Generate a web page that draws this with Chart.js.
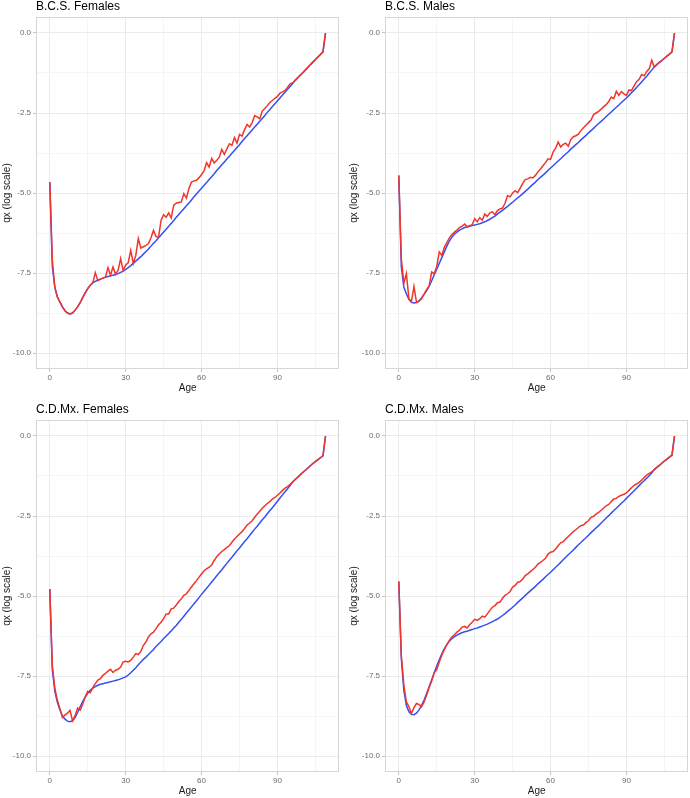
<!DOCTYPE html>
<html>
<head>
<meta charset="utf-8">
<script src="https://cdn.jsdelivr.net/npm/chart.js@4/dist/chart.umd.min.js"></script>
<style>
html,body{margin:0;padding:0;background:#fff;}
#wrap{position:relative;width:690px;height:798px;overflow:hidden;background:#fff;}
.cell{position:absolute;width:345px;}
.cell canvas{position:absolute;left:0;top:0;}
.ttl{position:absolute;top:0;font-family:'Liberation Sans',Arial,sans-serif;font-size:12px;line-height:12px;color:#000;white-space:nowrap;}
</style>
</head>
<body>
<div id="wrap"></div>
<script>
// ---- categories ----
const ages = Array.from({length: 110}, (_, i) => i);
const xTickVals = [0, 15, 30, 45, 60, 75, 90, 105];
const xTickLabels = ['0', '', '30', '', '60', '', '90', ''];
const yTickVals = [-10, -8.75, -7.5, -6.25, -5, -3.75, -2.5, -1.25, 0];
const yTickLabels = ['-10.0', '', '-7.5', '', '-5.0', '', '-2.5', '', '0.0'];
const panelTitles = ['B.C.S. Females', 'B.C.S. Males', 'C.D.Mx. Females', 'C.D.Mx. Males'];
const xAxisTitle = 'Age';
const yAxisTitle = 'qx (log scale)';

// ---- series (log qx by age 0..109) ----
const bcsFemObs = [
-4.66,-7.10,-7.94,-8.25,-8.40,-8.56,-8.68,-8.75,-8.78,-8.75,
-8.66,-8.56,-8.43,-8.27,-8.12,-7.99,-7.88,-7.80,-7.49,-7.74,
-7.69,-7.66,-7.63,-7.33,-7.57,-7.31,-7.54,-7.42,-7.05,-7.42,
-7.25,-7.18,-6.79,-7.20,-6.95,-6.42,-6.72,-6.68,-6.64,-6.58,
-6.40,-6.17,-6.36,-6.38,-5.85,-5.68,-5.76,-5.62,-5.78,-5.38,
-5.32,-5.30,-5.28,-5.02,-5.16,-4.86,-4.66,-4.62,-4.60,-4.52,
-4.42,-4.30,-4.05,-4.19,-3.92,-4.06,-3.98,-3.88,-3.64,-3.79,
-3.62,-3.46,-3.51,-3.27,-3.44,-3.17,-3.22,-3.02,-2.86,-2.94,
-2.80,-2.58,-2.62,-2.68,-2.44,-2.36,-2.27,-2.17,-2.11,-2.04,
-1.98,-1.88,-1.84,-1.79,-1.70,-1.59,-1.56,-1.48,-1.40,-1.32,
-1.24,-1.16,-1.08,-0.99,-0.91,-0.83,-0.75,-0.67,-0.59,0.00];
const bcsFemFit = [
-4.66,-7.30,-7.96,-8.25,-8.41,-8.56,-8.68,-8.75,-8.78,-8.75,
-8.66,-8.56,-8.43,-8.27,-8.12,-7.99,-7.88,-7.81,-7.76,-7.72,
-7.69,-7.66,-7.63,-7.61,-7.59,-7.57,-7.55,-7.52,-7.48,-7.44,
-7.39,-7.33,-7.27,-7.20,-7.13,-7.06,-6.99,-6.91,-6.83,-6.75,
-6.66,-6.57,-6.49,-6.40,-6.31,-6.22,-6.13,-6.04,-5.95,-5.86,
-5.76,-5.67,-5.58,-5.49,-5.40,-5.31,-5.22,-5.12,-5.03,-4.94,
-4.85,-4.76,-4.67,-4.58,-4.49,-4.40,-4.30,-4.21,-4.12,-4.03,
-3.94,-3.85,-3.76,-3.67,-3.58,-3.49,-3.39,-3.30,-3.21,-3.12,
-3.03,-2.94,-2.85,-2.76,-2.67,-2.58,-2.48,-2.39,-2.30,-2.21,
-2.12,-2.03,-1.94,-1.85,-1.76,-1.67,-1.58,-1.48,-1.40,-1.32,
-1.24,-1.16,-1.08,-0.99,-0.91,-0.83,-0.75,-0.67,-0.59,0.00];

const bcsMalObs = [
-4.45,-7.05,-7.83,-7.52,-8.30,-8.40,-7.92,-8.42,-8.38,-8.30,
-8.16,-8.02,-7.90,-7.47,-7.52,-7.30,-6.84,-6.95,-6.70,-6.55,
-6.40,-6.30,-6.22,-6.16,-6.08,-6.04,-5.97,-6.05,-6.02,-5.99,
-5.80,-5.90,-5.77,-5.85,-5.66,-5.73,-5.62,-5.59,-5.68,-5.55,
-5.50,-5.47,-5.32,-5.08,-5.12,-5.00,-4.93,-4.99,-4.85,-4.70,
-4.58,-4.56,-4.51,-4.53,-4.45,-4.34,-4.25,-4.15,-4.05,-3.93,
-3.95,-3.72,-3.60,-3.41,-3.56,-3.48,-3.44,-3.54,-3.33,-3.24,
-3.21,-3.16,-3.05,-2.96,-2.88,-2.80,-2.72,-2.55,-2.50,-2.45,
-2.38,-2.30,-2.24,-2.14,-2.00,-2.05,-1.82,-1.95,-1.83,-1.90,
-1.95,-1.78,-1.80,-1.65,-1.52,-1.45,-1.30,-1.34,-1.20,-1.12,
-0.85,-1.06,-0.99,-0.92,-0.86,-0.79,-0.72,-0.66,-0.59,0.00];
const bcsMalFit = [
-4.45,-7.30,-7.95,-8.15,-8.32,-8.42,-8.44,-8.42,-8.37,-8.28,
-8.17,-8.05,-7.92,-7.74,-7.56,-7.38,-7.20,-7.02,-6.84,-6.66,
-6.50,-6.38,-6.29,-6.22,-6.16,-6.12,-6.08,-6.06,-6.04,-6.02,
-6.00,-5.98,-5.96,-5.93,-5.90,-5.86,-5.82,-5.77,-5.72,-5.66,
-5.60,-5.54,-5.48,-5.42,-5.35,-5.29,-5.22,-5.15,-5.09,-5.02,
-4.95,-4.88,-4.80,-4.73,-4.66,-4.58,-4.51,-4.44,-4.37,-4.29,
-4.22,-4.15,-4.07,-4.00,-3.93,-3.85,-3.78,-3.71,-3.63,-3.56,
-3.49,-3.42,-3.34,-3.27,-3.20,-3.12,-3.05,-2.98,-2.90,-2.83,
-2.76,-2.69,-2.61,-2.54,-2.47,-2.39,-2.32,-2.25,-2.17,-2.10,
-2.03,-1.95,-1.87,-1.79,-1.70,-1.62,-1.53,-1.44,-1.35,-1.25,
-1.16,-1.06,-0.99,-0.92,-0.86,-0.79,-0.72,-0.66,-0.59,0.00];

const cdmxFemObs = [
-4.78,-7.17,-7.89,-8.26,-8.52,-8.80,-8.72,-8.66,-8.57,-8.90,
-8.74,-8.50,-8.57,-8.38,-8.16,-7.98,-8.02,-7.86,-7.74,-7.63,
-7.58,-7.48,-7.42,-7.35,-7.29,-7.39,-7.32,-7.29,-7.22,-7.06,
-7.04,-7.06,-7.01,-6.91,-6.80,-6.83,-6.73,-6.54,-6.44,-6.28,
-6.18,-6.13,-6.02,-5.90,-5.82,-5.71,-5.56,-5.56,-5.40,-5.38,
-5.28,-5.17,-5.09,-4.98,-4.93,-4.83,-4.72,-4.62,-4.52,-4.41,
-4.31,-4.21,-4.15,-4.10,-4.03,-3.89,-3.77,-3.69,-3.61,-3.55,
-3.48,-3.43,-3.32,-3.22,-3.14,-3.06,-2.99,-2.89,-2.78,-2.72,
-2.65,-2.54,-2.44,-2.35,-2.26,-2.18,-2.11,-2.05,-1.97,-1.92,
-1.85,-1.78,-1.70,-1.63,-1.58,-1.51,-1.44,-1.36,-1.29,-1.21,
-1.14,-1.07,-1.00,-0.93,-0.86,-0.80,-0.74,-0.68,-0.62,0.00];
const cdmxFemFit = [
-4.78,-7.30,-7.98,-8.32,-8.56,-8.74,-8.85,-8.91,-8.93,-8.90,
-8.80,-8.64,-8.46,-8.30,-8.16,-8.04,-7.95,-7.88,-7.83,-7.79,
-7.76,-7.74,-7.72,-7.70,-7.68,-7.66,-7.64,-7.62,-7.59,-7.56,
-7.53,-7.47,-7.40,-7.32,-7.24,-7.15,-7.06,-6.98,-6.91,-6.83,
-6.75,-6.67,-6.58,-6.50,-6.42,-6.33,-6.25,-6.17,-6.09,-6.00,
-5.92,-5.82,-5.73,-5.63,-5.53,-5.44,-5.34,-5.24,-5.15,-5.05,
-4.95,-4.85,-4.76,-4.66,-4.56,-4.47,-4.37,-4.27,-4.18,-4.08,
-3.98,-3.88,-3.79,-3.69,-3.59,-3.50,-3.40,-3.30,-3.21,-3.11,
-3.01,-2.91,-2.82,-2.72,-2.62,-2.53,-2.43,-2.33,-2.24,-2.14,
-2.04,-1.94,-1.84,-1.74,-1.65,-1.55,-1.44,-1.36,-1.29,-1.21,
-1.14,-1.07,-1.00,-0.93,-0.86,-0.80,-0.74,-0.68,-0.62,0.00];

const cdmxMalObs = [
-4.55,-6.85,-7.79,-8.31,-8.46,-8.67,-8.49,-8.36,-8.39,-8.46,
-8.31,-8.10,-7.86,-7.66,-7.40,-7.30,-7.06,-6.85,-6.67,-6.52,
-6.39,-6.28,-6.21,-6.13,-6.07,-5.97,-5.95,-6.00,-5.90,-5.82,
-5.73,-5.76,-5.71,-5.63,-5.66,-5.56,-5.45,-5.35,-5.30,-5.21,
-5.19,-5.07,-4.98,-4.93,-4.86,-4.72,-4.67,-4.57,-4.55,-4.47,
-4.36,-4.31,-4.24,-4.17,-4.10,-4.00,-3.95,-3.89,-3.82,-3.69,
-3.63,-3.61,-3.53,-3.43,-3.34,-3.30,-3.22,-3.14,-3.06,-2.99,
-2.93,-2.86,-2.80,-2.78,-2.70,-2.65,-2.54,-2.51,-2.44,-2.39,
-2.32,-2.25,-2.18,-2.14,-2.05,-1.97,-1.95,-1.89,-1.85,-1.82,
-1.78,-1.70,-1.62,-1.54,-1.50,-1.45,-1.38,-1.30,-1.22,-1.17,
-1.12,-1.05,-0.98,-0.92,-0.85,-0.78,-0.72,-0.66,-0.60,0.00];
const cdmxMalFit = [
-4.55,-6.95,-7.95,-8.42,-8.62,-8.70,-8.71,-8.66,-8.56,-8.42,
-8.25,-8.05,-7.84,-7.62,-7.40,-7.19,-6.99,-6.81,-6.65,-6.52,
-6.41,-6.33,-6.27,-6.22,-6.18,-6.15,-6.12,-6.10,-6.07,-6.05,
-6.02,-6.00,-5.97,-5.94,-5.91,-5.88,-5.84,-5.80,-5.76,-5.72,
-5.67,-5.61,-5.55,-5.48,-5.42,-5.35,-5.28,-5.20,-5.13,-5.06,
-4.98,-4.91,-4.84,-4.77,-4.70,-4.62,-4.55,-4.48,-4.40,-4.33,
-4.26,-4.18,-4.10,-4.03,-3.95,-3.87,-3.79,-3.71,-3.64,-3.56,
-3.48,-3.40,-3.33,-3.25,-3.18,-3.10,-3.02,-2.95,-2.87,-2.80,
-2.72,-2.64,-2.56,-2.49,-2.41,-2.33,-2.26,-2.18,-2.10,-2.03,
-1.95,-1.87,-1.79,-1.71,-1.63,-1.55,-1.47,-1.40,-1.32,-1.24,
-1.16,-1.05,-0.98,-0.92,-0.85,-0.78,-0.72,-0.66,-0.60,0.00];

// ---- layout & style (kept apart from data) ----
const panelData = [
  [bcsFemObs, bcsFemFit],
  [bcsMalObs, bcsMalFit],
  [cdmxFemObs, cdmxFemFit],
  [cdmxMalObs, cdmxMalFit]
];
const panelBoxes = [
  {left: 0,   top: 0,   h: 399, padL: 1, yW: 35, padR: 5.7, padB: 5},
  {left: 345, top: 0,   h: 399, padL: 3, yW: 37, padR: 1.7, padB: 5},
  {left: 0,   top: 403, h: 395, padL: 1, yW: 35, padR: 5.7, padB: 1},
  {left: 345, top: 403, h: 395, padL: 3, yW: 37, padR: 1.7, padB: 1}
];
const FONT = "'Liberation Sans', Arial, Helvetica, sans-serif";
const RED = '#f1352a';
const BLUE = '#3650f2';
const GRID_MAJOR = '#ebebeb';
const GRID_MINOR = '#f5f5f5';
const TICK_COLOR = '#c4c4c4';
const BORDER = '#d6d6d6';

const framePlugin = {
  id: 'frame',
  afterDatasetsDraw(chart) {
    const {ctx, chartArea: a} = chart;
    ctx.save();
    ctx.strokeStyle = BORDER;
    ctx.lineWidth = 1;
    const l = Math.round(a.left) + 0.5, t = Math.round(a.top) + 0.5;
    const r = Math.round(a.right) - 0.5, b = Math.round(a.bottom) - 0.5;
    ctx.strokeRect(l, t, r - l, b - t);
    ctx.restore();
  }
};

const isMajor = (vals, labels, v) => {
  const i = vals.indexOf(v);
  return i >= 0 && labels[i] !== '';
};

const wrap = document.getElementById('wrap');
panelBoxes.forEach((box, k) => {
  const cell = document.createElement('div');
  cell.className = 'cell';
  cell.style.left = box.left + 'px';
  cell.style.top = box.top + 'px';
  cell.style.height = box.h + 'px';
  const cv = document.createElement('canvas');
  cv.width = 345; cv.height = box.h;
  cv.style.width = '345px'; cv.style.height = box.h + 'px';
  cell.appendChild(cv);
  const t = document.createElement('div');
  t.className = 'ttl';
  t.style.left = (box.padL + box.yW) + 'px';
  t.textContent = panelTitles[k];
  cell.appendChild(t);
  wrap.appendChild(cell);

  const [obs, fit] = panelData[k];
  new Chart(cv, {
    type: 'line',
    data: {
      datasets: [
        {label: 'observed', data: ages.map((a, i) => ({x: a, y: obs[i]})),
         borderColor: RED, borderWidth: 1.5, pointRadius: 0, tension: 0, fill: false, order: 0},
        {label: 'fitted', data: ages.map((a, i) => ({x: a, y: fit[i]})),
         borderColor: BLUE, borderWidth: 1.5, pointRadius: 0, tension: 0, fill: false, order: 1}
      ]
    },
    options: {
      responsive: false, animation: false, devicePixelRatio: 1,
      layout: {padding: {left: box.padL, right: box.padR, top: 17, bottom: box.padB}},
      plugins: {legend: {display: false}, tooltip: {enabled: false}, title: {display: false}},
      scales: {
        x: {
          type: 'linear', min: -5.45, max: 114.45,
          afterBuildTicks: s => { s.ticks = xTickVals.map(v => ({value: v})); },
          afterFit: s => { s.height = 25; },
          ticks: {autoSkip: false, maxRotation: 0, minRotation: 0, padding: 1, color: '#6b6b6b',
                  font: {family: FONT, size: 8},
                  callback: v => { const i = xTickVals.indexOf(v); return i >= 0 ? xTickLabels[i] : ''; }},
          grid: {
            color: c => isMajor(xTickVals, xTickLabels, c.tick.value) ? GRID_MAJOR : GRID_MINOR,
            tickColor: c => isMajor(xTickVals, xTickLabels, c.tick.value) ? TICK_COLOR : 'rgba(0,0,0,0)',
            tickLength: 3, lineWidth: 1, drawTicks: true
          },
          border: {display: false},
          title: {display: true, text: xAxisTitle, color: '#1a1a1a', font: {family: FONT, size: 10}, padding: 0}
        },
        y: {
          type: 'linear', min: -10.5, max: 0.5,
          afterBuildTicks: s => { s.ticks = yTickVals.map(v => ({value: v})); },
          afterFit: s => { s.width = box.yW; },
          ticks: {autoSkip: false, padding: 2, color: '#6b6b6b', font: {family: FONT, size: 8},
                  callback: v => { const i = yTickVals.indexOf(v); return i >= 0 ? yTickLabels[i] : ''; }},
          grid: {
            color: c => isMajor(yTickVals, yTickLabels, c.tick.value) ? GRID_MAJOR : GRID_MINOR,
            tickColor: c => isMajor(yTickVals, yTickLabels, c.tick.value) ? TICK_COLOR : 'rgba(0,0,0,0)',
            tickLength: 3, lineWidth: 1, drawTicks: true
          },
          border: {display: false},
          title: {display: true, text: yAxisTitle, color: '#1a1a1a', font: {family: FONT, size: 10}, padding: 0}
        }
      }
    },
    plugins: [framePlugin]
  });
});
</script>
</body>
</html>
